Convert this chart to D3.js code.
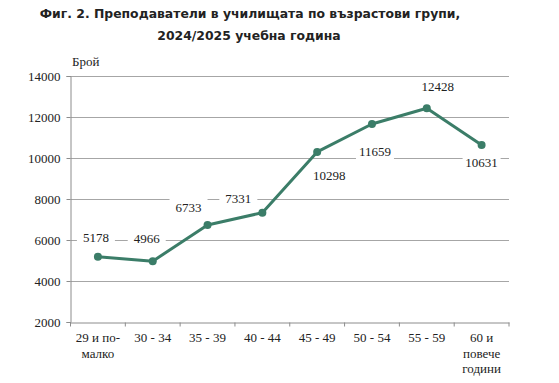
<!DOCTYPE html>
<html lang="bg">
<head>
<meta charset="utf-8">
<style>
  body { margin: 0; background: #fff; }
  svg { display: block; }
  .title { font-family: "DejaVu Sans", Verdana, sans-serif; font-weight: bold; font-size: 12.4px; fill: #222; }
  .lbl { font-family: "Liberation Serif", "Times New Roman", serif; font-size: 13px; fill: #222; }
  .grid line { stroke: #a6a6a6; stroke-width: 1; }
</style>
</head>
<body>
<div id="chart"></div>
<script src="https://d3js.org/d3.v7.min.js"></script>
<script>
// data
var categories = ["29 и по-|малко", "30 - 34", "35 - 39", "40 - 44", "45 - 49", "50 - 54", "55 - 59", "60 и|повече|години"];
var teachers = [5178, 4966, 6733, 7331, 10298, 11659, 12428, 10631];
var yTicks = [2000, 4000, 6000, 8000, 10000, 12000, 14000];

var width = 559, height = 383;
var svg = d3.select("#chart").append("svg")
    .attr("width", width).attr("height", height);

// title
svg.append("text").attr("class", "title")
    .attr("x", 250).attr("y", 18).attr("text-anchor", "middle")
    .text("Фиг. 2. Преподаватели в училищата по възрастови групи,");
svg.append("text").attr("class", "title")
    .attr("x", 249).attr("y", 40).attr("text-anchor", "middle")
    .text("2024/2025 учебна година");

var x = d3.scaleBand().domain(categories).range([70.5, 509]);
var y = d3.scaleLinear().domain([2000, 14000]).range([322, 76]);

// gridlines
svg.append("g").attr("class", "grid")
  .selectAll("line").data(yTicks.slice(1)).join("line")
    .attr("x1", 70.5).attr("x2", 509)
    .attr("y1", function (d) { return Math.round(y(d)) + 0.5; })
    .attr("y2", function (d) { return Math.round(y(d)) + 0.5; });

// y axis
var yAxis = svg.append("g").attr("transform", "translate(70.5,0)")
    .call(d3.axisLeft(y).tickValues(yTicks).tickSize(4).tickFormat(d3.format("d")));
yAxis.attr("font-family", null).attr("font-size", null);
yAxis.select(".domain").attr("stroke", "#8c8c8c");
yAxis.selectAll(".tick line").attr("stroke", "#8c8c8c");
yAxis.selectAll(".tick text").attr("class", "lbl").attr("x", -10).attr("dy", "0.35em")
    .style("font-family", "'Liberation Serif', serif").style("font-size", "13px").attr("fill", "#222");

svg.append("text").attr("class", "lbl")
    .attr("x", 72).attr("y", 66).text("Брой");

// x axis
var xAxis = svg.append("g").attr("transform", "translate(0,322.5)")
    .call(d3.axisBottom(x).tickSize(0).tickFormat(""));
xAxis.select(".domain").attr("stroke", "#8c8c8c");
var edges = categories.map(function (c) { return x(c); }).concat([x.range()[1]]);
xAxis.selectAll(".edge").data(edges).join("line")
    .attr("x1", function (d) { return d; }).attr("x2", function (d) { return d; })
    .attr("y1", 0).attr("y2", 4).attr("stroke", "#8c8c8c");

var xl = svg.append("g").selectAll("text").data(categories).join("text")
    .attr("class", "lbl").attr("text-anchor", "middle")
    .attr("x", function (d) { return x(d) + x.bandwidth() / 2; })
    .attr("y", 342);
xl.each(function (d) {
    var t = d3.select(this);
    d.split("|").forEach(function (part, i) {
        t.append("tspan").attr("x", x(d) + x.bandwidth() / 2)
            .attr("dy", i === 0 ? 0 : 15.5).text(part);
    });
});

// line
var cx = function (d, i) { return x(categories[i]) + x.bandwidth() / 2; };
var line = d3.line().x(cx).y(function (d) { return y(d); });
svg.append("path").datum(teachers)
    .attr("d", line).attr("fill", "none")
    .attr("stroke", "#3b7d68").attr("stroke-width", 3).attr("stroke-linejoin", "round");
svg.append("g").selectAll("circle").data(teachers).join("circle")
    .attr("cx", cx).attr("cy", function (d) { return y(d); })
    .attr("r", 4).attr("fill", "#3b7d68");

// data labels (offsets from point, in px)
var labelOff = [[-2, -19], [-6, -23], [-19, -18], [-24, -14], [12, 24], [3, 27], [11, -22], [0, 17]];
var lg = svg.append("g").selectAll("g").data(teachers).join("g")
    .attr("transform", function (d, i) {
        return "translate(" + (cx(d, i) + labelOff[i][0]) + "," + (y(d) + labelOff[i][1]) + ")";
    });
lg.append("rect").attr("x", -19).attr("y", -8).attr("width", 38).attr("height", 16).attr("fill", "#fff");
lg.append("text").attr("class", "lbl").attr("text-anchor", "middle").attr("dy", "0.35em")
    .text(function (d) { return d; });
</script>
</body>
</html>
